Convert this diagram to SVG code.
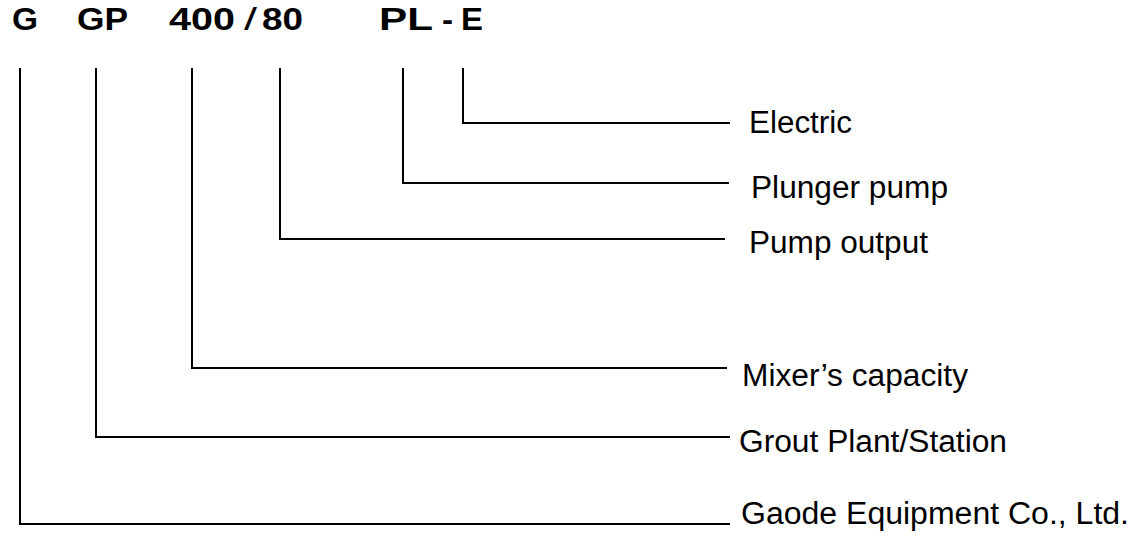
<svg xmlns="http://www.w3.org/2000/svg" width="1139" height="536" viewBox="0 0 1139 536">
<style>
.t{font-family:"Liberation Sans",Arial,sans-serif;font-weight:bold;font-size:31px;fill:#000}
.s{font-family:"Liberation Sans",Arial,sans-serif;font-size:31px;fill:#000}
.l{font-family:"Liberation Sans",Arial,sans-serif;font-size:31px;fill:#000}
.c{fill:none;stroke:#000;stroke-width:2}
</style>
<rect width="1139" height="536" fill="#fff"/>
<g id="title">
<text class="t" x="12" y="30" textLength="26" lengthAdjust="spacingAndGlyphs">G</text>
<text class="t" x="77" y="30" textLength="51" lengthAdjust="spacingAndGlyphs">GP</text>
<text class="t" x="169" y="30" textLength="66" lengthAdjust="spacingAndGlyphs">400</text>
<text class="s" x="244" y="30" textLength="13" lengthAdjust="spacingAndGlyphs">/</text>
<text class="t" x="262" y="30" textLength="41" lengthAdjust="spacingAndGlyphs">80</text>
<text class="t" x="379" y="30" textLength="54" lengthAdjust="spacingAndGlyphs">PL</text>
<text class="t" x="442" y="30" textLength="11" lengthAdjust="spacingAndGlyphs">-</text>
<text class="t" x="461" y="30" textLength="22" lengthAdjust="spacingAndGlyphs">E</text>
</g>
<g id="connectors">
<polyline class="c" points="463,68 463,123 730,123"/>
<polyline class="c" points="403,68 403,183 729,183"/>
<polyline class="c" points="280,68 280,239 725,239"/>
<polyline class="c" points="192,68 192,368 727,368"/>
<polyline class="c" points="96,68 96,437 730,437"/>
<polyline class="c" points="20,68 20,524 730,524"/>
</g>
<g id="electric"><text class="l" x="749" y="133" textLength="103" lengthAdjust="spacingAndGlyphs">Electric</text></g>
<g id="plunger"><text class="l" x="751" y="198" textLength="197" lengthAdjust="spacingAndGlyphs">Plunger pump</text></g>
<g id="pumpout"><text class="l" x="749" y="253" textLength="179" lengthAdjust="spacingAndGlyphs">Pump output</text></g>
<g id="mixer"><text class="l" x="742" y="386" textLength="226" lengthAdjust="spacingAndGlyphs">Mixer’s capacity</text></g>
<g id="grout"><text class="l" x="739" y="452" textLength="268" lengthAdjust="spacingAndGlyphs">Grout Plant/Station</text></g>
<g id="gaode"><text class="l" x="741" y="524" textLength="388" lengthAdjust="spacingAndGlyphs">Gaode Equipment Co., Ltd.</text></g>
</svg>
